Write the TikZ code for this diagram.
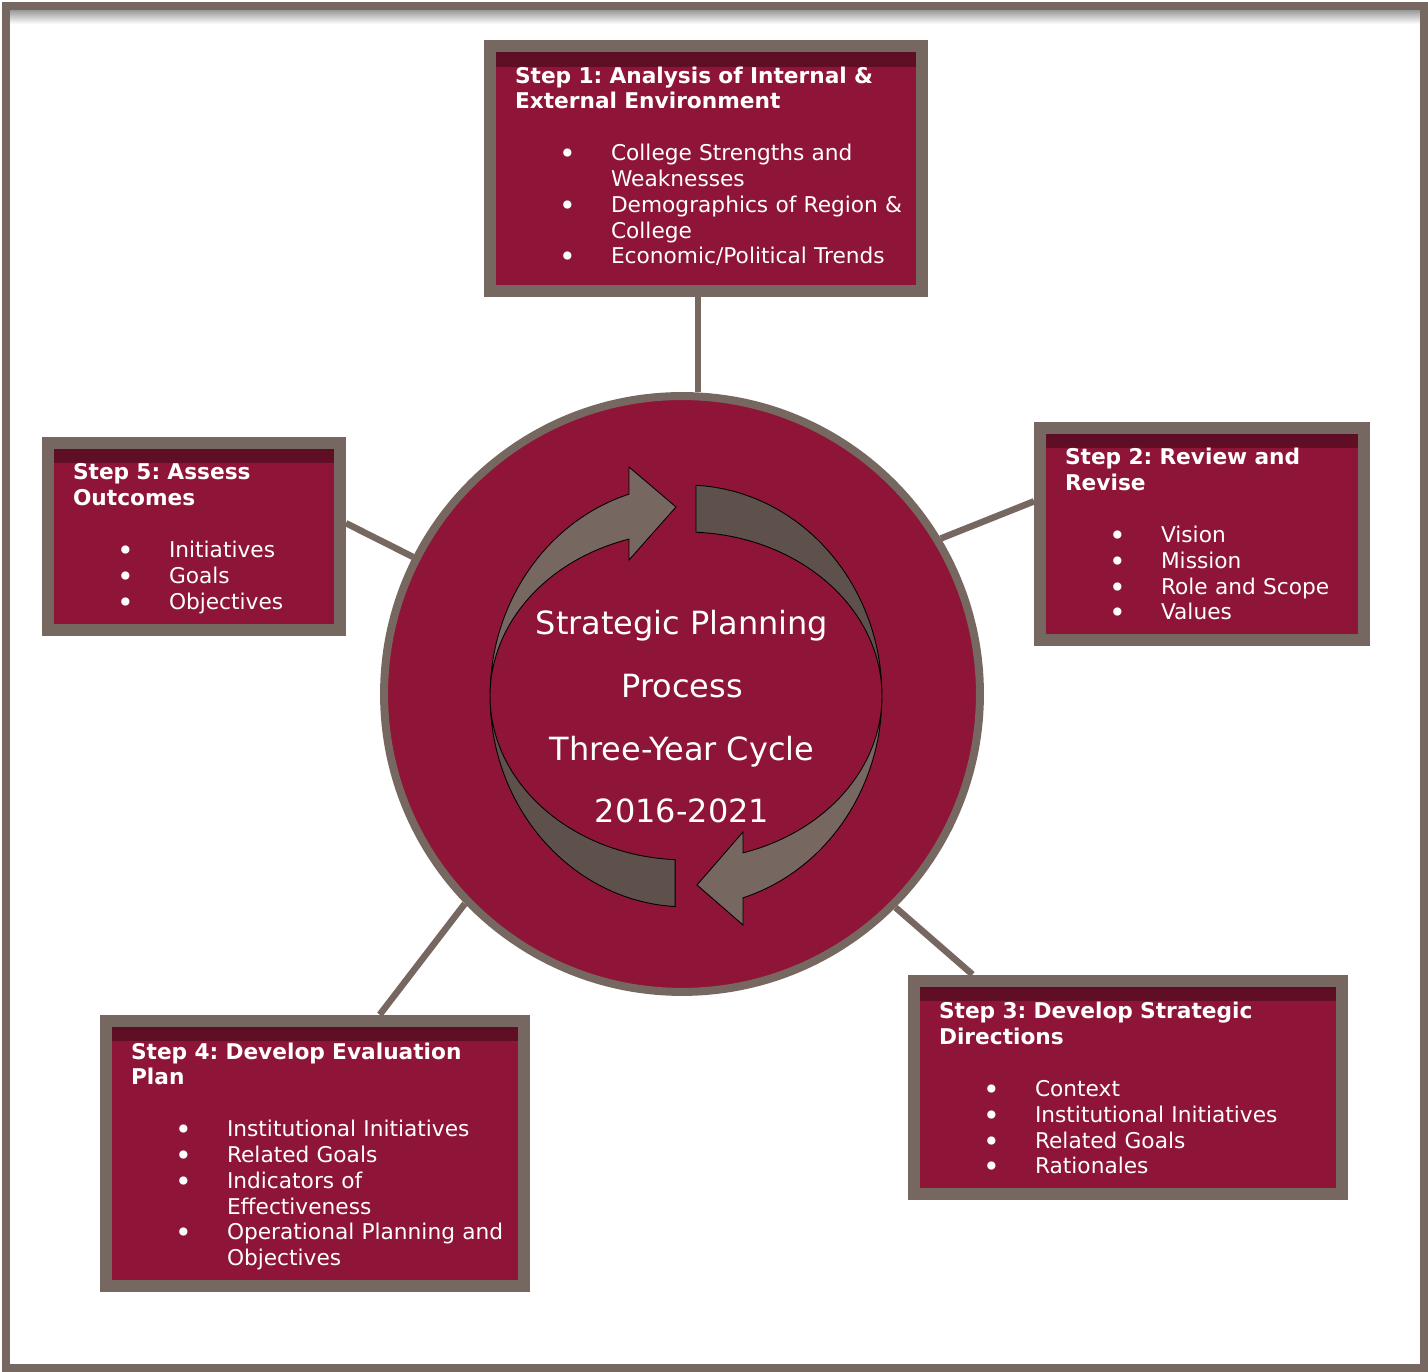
\documentclass[tikz,border=0pt]{standalone}
\usepackage{fontspec}
\setmainfont{DejaVu Sans}
\frenchspacing
\definecolor{wine}{RGB}{142,21,55}
\definecolor{frame}{RGB}{118,103,97}
\definecolor{ribbon}{RGB}{94,80,75}
\newcommand{\boxtitle}[2][12pt]{\leftskip=0.3cm\lineskiplimit=-100pt
  \noindent\rule{0pt}{#1}\textbf{#2}\par\vspace{14.7pt}}
\newcommand{\bitem}[1]{\hangindent=1.92cm\hangafter=1\noindent
  \makebox[1.92cm][l]{\hspace{0.88cm}\raisebox{-0.25ex}{\scalebox{1.3}{\textbullet}}}#1\rule[-6pt]{0pt}{6pt}\par}
\tikzset{
  stepbox/.style={draw=frame, fill=wine, line width=0.24cm, text=white, align=left,
    inner xsep=0.2cm, inner ysep=0.2cm, font=\fontsize{12.35}{14.7}\selectfont,
    path picture={\shade[top color=wine!65!black, bottom color=wine]
      ([yshift=-0.04cm]path picture bounding box.north west) rectangle
      ([yshift=-0.4cm]path picture bounding box.north east);}},
  link/.style={draw=frame, line width=0.13cm},
  band/.style={draw=black, line width=0.5pt}
}
\begin{document}
\begin{tikzpicture}[x=0.02cm, y=0.02cm]
  \useasboundingbox (0,0) rectangle (1428,1372);
  \shade[top color=black!40, bottom color=white] (10,1362) rectangle (1420,1348);
  \draw[frame, line width=0.16cm] (6,4) rectangle (1424,1366);

  \node[circle, draw=frame, fill=wine, line width=0.16cm, minimum size=11.92cm, inner sep=0pt] (hub) at (682,678) {};

  \coordinate (loop) at (686,676);
  \filldraw[band, fill=frame] ([shift={(loop)}]180:3.92cm and 4.22cm)
    arc[start angle=180, end angle=106.9, x radius=3.92cm, y radius=4.22cm]
    -- (629,905) -- (676,865) -- (629,812)
    -- ([shift={(loop)}]106.9:3.92cm and 3.28cm)
    arc[start angle=106.9, end angle=180, x radius=3.92cm, y radius=3.28cm] -- cycle;
  \filldraw[band, fill=ribbon] ([shift={(loop)}]87.07:3.92cm and 4.22cm)
    arc[start angle=87.07, end angle=0, x radius=3.92cm, y radius=4.22cm]
    arc[start angle=0, end angle=87.07, x radius=3.92cm, y radius=3.28cm] -- cycle;
  \filldraw[band, fill=frame] ([shift={(loop)}]0:3.92cm and 4.22cm)
    arc[start angle=0, end angle=-73.1, x radius=3.92cm, y radius=4.22cm]
    -- (743,447) -- (697,487) -- (743,540)
    -- ([shift={(loop)}]-73.1:3.92cm and 3.28cm)
    arc[start angle=-73.1, end angle=0, x radius=3.92cm, y radius=3.28cm] -- cycle;
  \filldraw[band, fill=ribbon] ([shift={(loop)}]-93.2:3.92cm and 4.22cm)
    arc[start angle=-93.2, end angle=-180, x radius=3.92cm, y radius=4.22cm]
    arc[start angle=180, end angle=266.8, x radius=3.92cm, y radius=3.28cm] -- cycle;

  \node[font=\fontsize{18.2}{35.7}\selectfont, text=white, align=center] (hubtext) at (682,655)
    {Strategic Planning\\Process\\Three-Year Cycle\\2016-2021};

  \node[stepbox, text width=8.24cm, minimum height=4.9cm] (s1) at (706,1203.5) {%
    \boxtitle[11.7pt]{Step 1: Analysis of Internal \&\newline External Environment}%
    \bitem{College Strengths and\newline Weaknesses}%
    \bitem{Demographics of Region \&\newline College}%
    \bitem{Economic/Political Trends}};
  \node[stepbox, text width=6.08cm, minimum height=4.24cm] (s2) at (1202,838) {%
    \boxtitle[15.6pt]{Step 2: Review and\newline Revise}%
    \bitem{Vision}\bitem{Mission}\bitem{Role and Scope}\bitem{Values}};
  \node[stepbox, text width=8.16cm, minimum height=4.26cm] (s3) at (1128,284.5) {%
    \boxtitle[16.2pt]{Step 3: Develop Strategic\newline Directions}%
    \bitem{Context}\bitem{Institutional Initiatives}\bitem{Related Goals}\bitem{Rationales}};
  \node[stepbox, text width=7.96cm, minimum height=5.3cm] (s4) at (315,218.5) {%
    \boxtitle[16.2pt]{Step 4: Develop Evaluation\newline Plan}%
    \bitem{Institutional Initiatives}\bitem{Related Goals}%
    \bitem{Indicators of\newline Effectiveness}%
    \bitem{Operational Planning and\newline Objectives}};
  \node[stepbox, text width=5.44cm, minimum height=3.74cm] (s5) at (194,835.5) {%
    \boxtitle[15.1pt]{Step 5: Assess\newline Outcomes}%
    \bitem{Initiatives}\bitem{Goals}\bitem{Objectives}};

  \draw[link] (s1.south -| hub.87) -- (hub.87);
  \draw[link] (s2.169) -- (hub.31);
  \draw[link] (s3.144) -- (hub.315);
  \draw[link] (s4.65) -- (hub.224);
  \draw[link] (s5.5) -- (hub.153);
\end{tikzpicture}
\end{document}
